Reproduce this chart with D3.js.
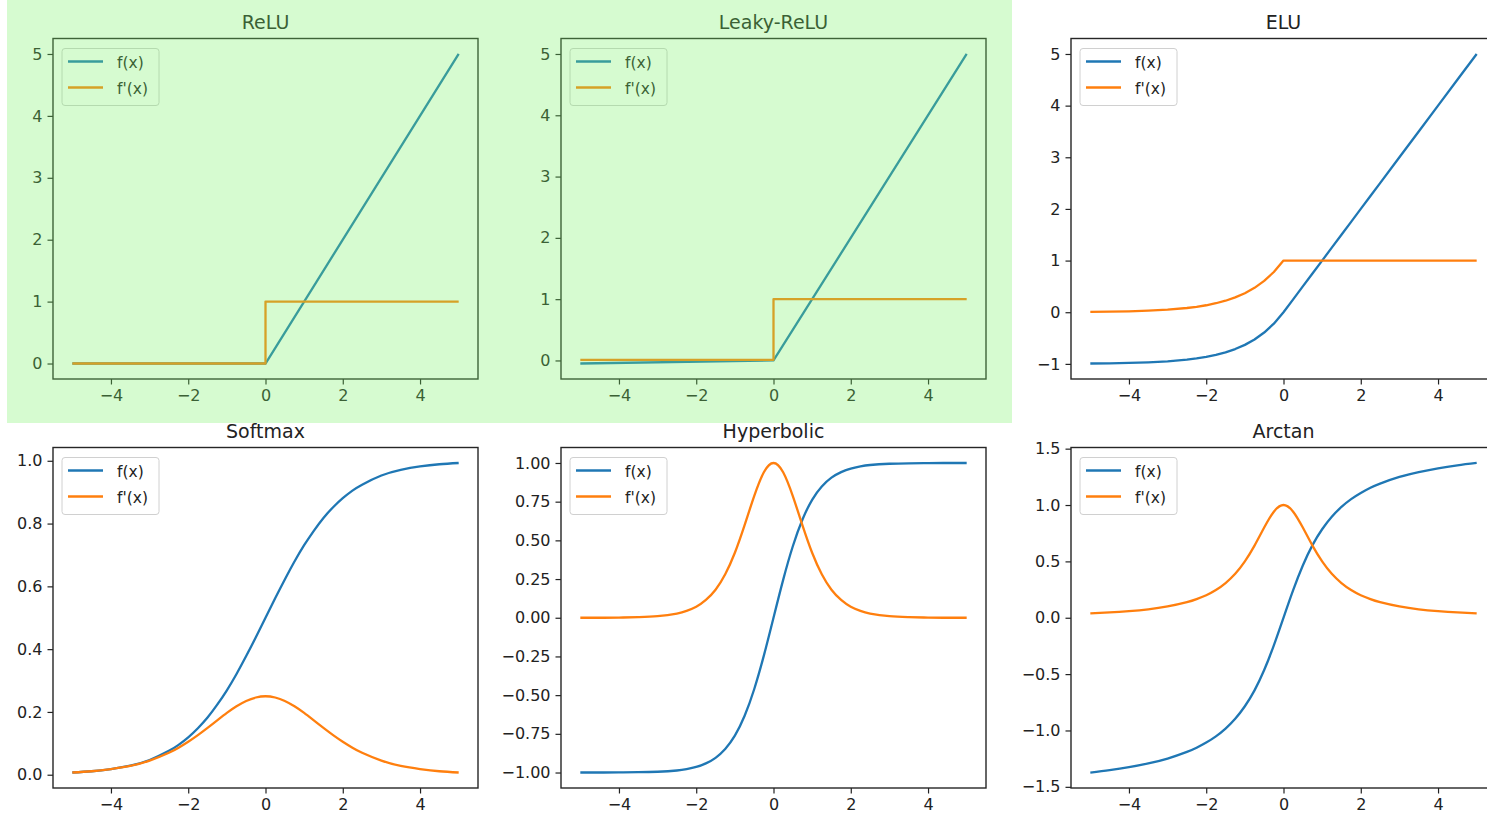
<!DOCTYPE html>
<html>
<head>
<meta charset="utf-8">
<script src="https://cdn.jsdelivr.net/npm/d3@7"></script>
<style>
    body { margin: 0; background: #fff; }
    svg { display: block; font-family: "DejaVu Sans", sans-serif; }
</style>
</head>
<body>
<svg width="1487" height="816"></svg>
<script>
// sample positions shared by the smooth curves (denser near the middle)
const xs = [-5, -4.5, -4, -3.5, -3, -2.5, -2.25, -2, -1.75, -1.5, -1.25, -1, -0.75, -0.5, -0.25, 0,
    0.25, 0.5, 0.75, 1, 1.25, 1.5, 1.75, 2, 2.25, 2.5, 3, 3.5, 4, 4.5, 5];

// ReLU and Leaky-ReLU are piecewise lines, so only their corners are kept
const reluFX = [-5, 0, 5];
const reluF = [0, 0, 5];
const reluDX = [-5, 0, 0, 5];
const reluD = [0, 0, 1, 1];

const leakyFX = [-5, 0, 5];
const leakyF = [-0.05, 0, 5];
const leakyDX = [-5, 0, 0, 5];
const leakyD = [0.01, 0.01, 1, 1];

const eluF = [-0.993, -0.989, -0.982, -0.970, -0.950, -0.918, -0.895, -0.865, -0.826, -0.777, -0.713,
    -0.632, -0.528, -0.393, -0.221, 0,
    0.25, 0.5, 0.75, 1, 1.25, 1.5, 1.75, 2, 2.25, 2.5, 3, 3.5, 4, 4.5, 5];
const eluD = [0.007, 0.011, 0.018, 0.030, 0.050, 0.082, 0.105, 0.135, 0.174, 0.223, 0.287,
    0.368, 0.472, 0.607, 0.779, 1,
    1, 1, 1, 1, 1, 1, 1, 1, 1, 1, 1, 1, 1, 1, 1];

const softmaxF = [0.007, 0.011, 0.018, 0.029, 0.047, 0.076, 0.095, 0.119, 0.148, 0.182, 0.223,
    0.269, 0.321, 0.378, 0.438, 0.5,
    0.562, 0.622, 0.679, 0.731, 0.777, 0.818, 0.852, 0.881, 0.905, 0.924, 0.953, 0.971, 0.982, 0.989, 0.993];
const softmaxD = [0.007, 0.011, 0.018, 0.028, 0.045, 0.070, 0.086, 0.105, 0.126, 0.149, 0.173,
    0.197, 0.218, 0.235, 0.246, 0.25,
    0.246, 0.235, 0.218, 0.197, 0.173, 0.149, 0.126, 0.105, 0.086, 0.070, 0.045, 0.028, 0.018, 0.011, 0.007];

const tanhF = [-1.0, -1.0, -0.999, -0.998, -0.995, -0.987, -0.978, -0.964, -0.941, -0.905, -0.848,
    -0.762, -0.635, -0.462, -0.245, 0,
    0.245, 0.462, 0.635, 0.762, 0.848, 0.905, 0.941, 0.964, 0.978, 0.987, 0.995, 0.998, 0.999, 1.0, 1.0];
const tanhD = [0.0, 0.0, 0.001, 0.004, 0.010, 0.027, 0.044, 0.071, 0.115, 0.181, 0.281,
    0.420, 0.597, 0.786, 0.940, 1.0,
    0.940, 0.786, 0.597, 0.420, 0.281, 0.181, 0.115, 0.071, 0.044, 0.027, 0.010, 0.004, 0.001, 0.0, 0.0];

const arctanF = [-1.373, -1.352, -1.326, -1.292, -1.249, -1.190, -1.153, -1.107, -1.052, -0.983, -0.896,
    -0.785, -0.644, -0.464, -0.245, 0,
    0.245, 0.464, 0.644, 0.785, 0.896, 0.983, 1.052, 1.107, 1.153, 1.190, 1.249, 1.292, 1.326, 1.352, 1.373];
const arctanD = [0.038, 0.047, 0.059, 0.075, 0.100, 0.138, 0.165, 0.200, 0.246, 0.308, 0.390,
    0.500, 0.640, 0.800, 0.941, 1.0,
    0.941, 0.800, 0.640, 0.500, 0.390, 0.308, 0.246, 0.200, 0.165, 0.138, 0.100, 0.075, 0.059, 0.047, 0.038];

// tick labels
const xTicks = [-4, -2, 0, 2, 4];
const reluTicks = [0, 1, 2, 3, 4, 5];
const eluTicks = [-1, 0, 1, 2, 3, 4, 5];
const softmaxTicks = [0, 0.2, 0.4, 0.6, 0.8, 1.0];
const tanhTicks = [-1, -0.75, -0.5, -0.25, 0, 0.25, 0.5, 0.75, 1];
const arctanTicks = [-1.5, -1, -0.5, 0, 0.5, 1, 1.5];

const legendLabels = ["f(x)", "f'(x)"];
const lineColors = ["#1f77b4", "#ff7f0e"];

const panels = [
    { title: "ReLU", col: 0, row: 0, fx: reluFX, f: reluF, dx: reluDX, d: reluD, ticks: reluTicks, fmt: "d", curve: d3.curveLinear },
    { title: "Leaky-ReLU", col: 1, row: 0, fx: leakyFX, f: leakyF, dx: leakyDX, d: leakyD, ticks: reluTicks, fmt: "d", curve: d3.curveLinear },
    { title: "ELU", col: 2, row: 0, fx: xs, f: eluF, dx: xs, d: eluD, ticks: eluTicks, fmt: "d", curve: d3.curveLinear },
    { title: "Softmax", col: 0, row: 1, fx: xs, f: softmaxF, dx: xs, d: softmaxD, ticks: softmaxTicks, fmt: ".1f", curve: d3.curveNatural },
    { title: "Hyperbolic", col: 1, row: 1, fx: xs, f: tanhF, dx: xs, d: tanhD, ticks: tanhTicks, fmt: ".2f", curve: d3.curveNatural },
    { title: "Arctan", col: 2, row: 1, fx: xs, f: arctanF, dx: xs, d: arctanD, ticks: arctanTicks, fmt: ".1f", curve: d3.curveNatural }
];

const svg = d3.select("svg");

// grid layout of the six axes boxes
const colLeft = [53, 561, 1071];
const rowTop = [38.5, 447.5];
const boxW = 425;
const boxH = 340.5;

function drawPanel(p) {
    const left = colLeft[p.col];
    const top = rowTop[p.row];
    const g = svg.append("g").attr("transform", `translate(${left}, ${top})`);

    // matplotlib style 5% margins on both axes
    const x = d3.scaleLinear().domain([-5.5, 5.5]).range([0, boxW]);
    const all = p.f.concat(p.d);
    const lo = d3.min(all), hi = d3.max(all);
    const pad = (hi - lo) * 0.05;
    const y = d3.scaleLinear().domain([lo - pad, hi + pad]).range([boxH, 0]);

    // curves: f(x) first, derivative drawn on top
    const series = [[p.fx, p.f], [p.dx, p.d]];
    series.forEach((s, k) => {
        const line = d3.line()
            .x((v, i) => x(s[0][i]))
            .y(v => y(v))
            .curve(p.curve);
        g.append("path")
            .datum(s[1])
            .attr("fill", "none")
            .attr("stroke", lineColors[k])
            .attr("stroke-width", 2.3)
            .attr("stroke-linejoin", "round")
            .attr("d", line);
    });

    // axes
    const xAxis = g.append("g")
        .attr("transform", `translate(0, ${boxH})`)
        .call(d3.axisBottom(x).tickValues(xTicks).tickSize(5.5).tickPadding(5).tickFormat(d3.format("d")));
    const yAxis = g.append("g")
        .call(d3.axisLeft(y).tickValues(p.ticks).tickSize(5.5).tickPadding(5).tickFormat(d3.format(p.fmt)));
    [xAxis, yAxis].forEach(a => {
        a.select(".domain").remove();
        a.selectAll("line").attr("stroke", "#222").attr("stroke-width", 1.2);
        a.selectAll("text").attr("font-size", "16px").attr("fill", "#222")
            .attr("font-family", "DejaVu Sans, sans-serif");
    });

    // frame
    g.append("rect")
        .attr("width", boxW)
        .attr("height", boxH)
        .attr("fill", "none")
        .attr("stroke", "#262626")
        .attr("stroke-width", 1.4);

    // title
    g.append("text")
        .attr("x", boxW / 2)
        .attr("y", -10)
        .attr("text-anchor", "middle")
        .attr("font-size", "19px")
        .attr("fill", "#222")
        .text(p.title);

    // legend
    const legend = g.append("g").attr("transform", "translate(9, 10)");
    legend.append("rect")
        .attr("width", 97)
        .attr("height", 57)
        .attr("rx", 3)
        .attr("fill", "#fff")
        .attr("fill-opacity", 0.8)
        .attr("stroke", "#d0d0d0")
        .attr("stroke-width", 1);
    legendLabels.forEach((label, k) => {
        legend.append("line")
            .attr("x1", 6).attr("x2", 41)
            .attr("y1", 13 + k * 26).attr("y2", 13 + k * 26)
            .attr("stroke", lineColors[k])
            .attr("stroke-width", 2.3);
        legend.append("text")
            .attr("x", 55)
            .attr("y", 19 + k * 26)
            .attr("font-size", "15.5px")
            .attr("fill", "#222")
            .text(label);
    });
}

panels.forEach(drawPanel);

// translucent green highlight over the first two charts
svg.append("rect")
    .attr("x", 7)
    .attr("y", 0)
    .attr("width", 1005)
    .attr("height", 423)
    .attr("fill", "rgb(118, 242, 98)")
    .attr("fill-opacity", 0.3);
</script>
</body>
</html>
